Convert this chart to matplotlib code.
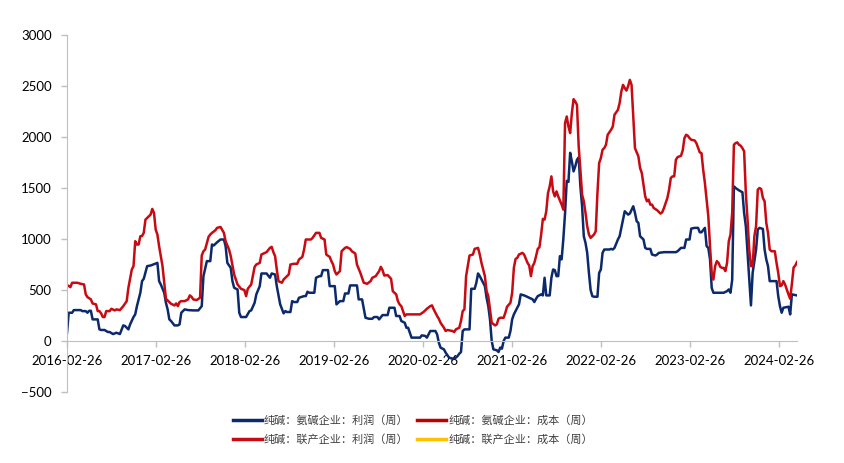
import matplotlib
matplotlib.use('Agg')
import matplotlib.pyplot as plt
import matplotlib.dates as mdates
from matplotlib.lines import Line2D
import numpy as np
import pandas as pd

plt.rcParams['font.family'] = ['Lato', 'Noto Sans CJK SC', 'DejaVu Sans']

start = pd.Timestamp('2016-02-26')

# 氨碱企业：利润（周）  (week index since 2016-02-26, value)
ammonia_weeks = [0, 1, 3, 4, 8, 9, 11, 12, 13, 14, 15, 18, 19, 20, 22, 24, 25, 27, 29, 31,
                 33, 34, 36, 37, 39, 40, 41, 43, 44, 45, 47, 49, 51, 53, 54, 55, 57, 58, 59, 60,
                 61, 63, 65, 66, 67, 69, 71, 74, 77, 79, 80, 82, 84, 85, 86, 88, 90, 92, 93, 94,
                 96, 97, 98, 100, 101, 102, 105, 107, 108, 110, 111, 113, 114, 117, 119, 120, 122, 123, 125, 127,
                 128, 129, 131, 132, 133, 135, 136, 139, 140, 141, 142, 145, 146, 148, 149, 150, 153, 154, 157, 158,
                 160, 162, 163, 165, 166, 170, 171, 173, 175, 177, 179, 180, 182, 183, 185, 188, 189, 192, 193, 195,
                 196, 198, 199, 200, 202, 207, 208, 210, 211, 213, 216, 217, 218, 219, 221, 222, 224, 226, 228, 229,
                 230, 231, 232, 233, 236, 237, 239, 240, 241, 242, 243, 245, 246, 247, 248, 249, 250, 252, 253, 254,
                 255, 256, 257, 259, 260, 261, 262, 264, 265, 266, 268, 269, 271, 273, 274, 275, 276, 278, 279, 280,
                 281, 283, 284, 285, 286, 287, 288, 289, 290, 291, 292, 293, 294, 295, 296, 297, 298, 299, 300, 301,
                 302, 303, 304, 305, 306, 307, 308, 309, 311, 312, 313, 314, 315, 318, 319, 320, 321, 323, 324, 325,
                 327, 328, 329, 330, 332, 333, 334, 335, 336, 338, 339, 340, 342, 343, 345, 346, 347, 350, 357, 358,
                 360, 362, 363, 365, 366, 368, 370, 371, 372, 374, 375, 376, 377, 378, 379, 385, 387, 388, 389, 390,
                 391, 392, 394, 396, 397, 398, 399, 400, 401, 402, 404, 405, 406, 408, 409, 410, 411, 412, 416, 417,
                 418, 419, 420, 423, 424, 425, 428]
ammonia_profit = [80, 277, 277, 303, 303, 293, 293, 277, 296, 296, 212, 212, 114, 108, 108, 88, 88, 68, 81, 68,
                  153, 147, 114, 163, 235, 261, 342, 473, 587, 610, 734, 740, 753, 766, 587, 554, 473, 375, 310, 212,
                  196, 153, 153, 163, 277, 310, 303, 300, 300, 342, 636, 783, 783, 946, 936, 968, 995, 995, 929, 766,
                  717, 587, 522, 505, 277, 235, 235, 293, 300, 375, 457, 538, 662, 662, 620, 662, 652, 538, 359, 271,
                  293, 284, 284, 391, 382, 382, 424, 440, 440, 483, 473, 473, 620, 636, 636, 695, 695, 538, 538, 359,
                  391, 391, 466, 466, 545, 545, 408, 408, 228, 218, 218, 235, 235, 212, 254, 254, 326, 326, 245, 245,
                  196, 179, 130, 130, 33, 33, 55, 50, 33, 98, 98, 65, -16, -65, -82, -114, -163, -173, -163, -147,
                  -124, -108, 98, 114, 114, 512, 512, 571, 662, 636, 603, 538, 424, 342, 212, 0, -82, -91, -108, -65,
                  -75, 0, 33, 33, 98, 212, 261, 326, 359, 457, 447, 440, 424, 408, 382, 414, 440, 457, 447, 620,
                  447, 447, 620, 701, 695, 636, 636, 832, 800, 1000, 1250, 1570, 1560, 1845, 1760, 1663, 1712, 1777, 1800, 1516,
                  1321, 1027, 962, 864, 668, 500, 440, 434, 434, 668, 701, 864, 897, 897, 903, 897, 913, 995, 1027, 1109,
                  1272, 1256, 1239, 1250, 1321, 1256, 1174, 1158, 1027, 995, 913, 903, 903, 848, 838, 848, 864, 871, 871, 880,
                  913, 913, 995, 995, 1102, 1109, 1109, 1066, 1066, 1109, 930, 913, 800, 520, 473, 473, 489, 505, 473, 600,
                  1516, 1500, 1477, 1458, 1256, 1125, 864, 603, 349, 668, 897, 1092, 1109, 1099, 897, 799, 734, 587, 587, 440,
                  342, 277, 326, 336, 261, 457, 447]

# 联产企业：利润（周）
joint_weeks = [0, 1, 2, 3, 6, 8, 10, 11, 12, 14, 15, 17, 18, 19, 20, 21, 22, 23, 25, 26,
               28, 29, 31, 33, 35, 36, 38, 39, 40, 41, 42, 43, 44, 45, 46, 48, 49, 50, 51, 52,
               53, 54, 56, 57, 58, 60, 61, 63, 64, 65, 66, 67, 69, 71, 72, 73, 74, 76, 78, 79,
               80, 81, 83, 84, 85, 87, 88, 90, 92, 93, 95, 96, 98, 100, 102, 104, 105, 106, 108, 110,
               111, 113, 114, 116, 117, 119, 120, 121, 122, 123, 124, 126, 127, 129, 130, 131, 133, 135, 136, 138,
               139, 140, 143, 144, 146, 148, 149, 151, 152, 154, 155, 156, 157, 158, 160, 161, 163, 164, 166, 167,
               169, 170, 172, 174, 176, 178, 179, 181, 183, 184, 185, 186, 188, 190, 191, 193, 194, 195, 196, 198,
               199, 207, 209, 211, 213, 214, 215, 217, 218, 219, 221, 222, 223, 226, 227, 228, 230, 231, 232, 233,
               234, 236, 238, 239, 241, 242, 243, 245, 246, 247, 248, 249, 251, 252, 253, 254, 256, 257, 258, 260,
               261, 262, 263, 264, 265, 267, 268, 270, 271, 272, 273, 274, 275, 276, 277, 278, 279, 280, 281, 282,
               283, 284, 285, 286, 287, 288, 290, 291, 292, 293, 294, 295, 296, 297, 298, 299, 300, 301, 302, 303,
               304, 305, 306, 307, 309, 310, 311, 312, 313, 314, 315, 316, 317, 319, 320, 321, 323, 324, 325, 326,
               327, 328, 329, 330, 331, 332, 333, 335, 336, 337, 338, 339, 340, 341, 342, 343, 344, 346, 348, 349,
               350, 352, 353, 354, 355, 356, 357, 358, 360, 361, 362, 363, 364, 365, 366, 368, 369, 371, 372, 373,
               374, 375, 376, 377, 378, 379, 380, 381, 382, 383, 384, 385, 386, 387, 388, 389, 390, 391, 392, 393,
               394, 395, 396, 397, 398, 399, 400, 401, 402, 403, 404, 405, 406, 407, 408, 409, 410, 411, 412, 413,
               415, 416, 417, 418, 419, 420, 421, 422, 423, 424, 425, 426, 427, 428]
joint_profit = [548, 540, 528, 571, 571, 561, 554, 457, 430, 408, 368, 359, 293, 293, 271, 235, 235, 293, 293, 316,
                300, 310, 303, 342, 391, 522, 701, 734, 978, 946, 946, 1027, 1030, 1060, 1190, 1223, 1239, 1295, 1256, 1092,
                1044, 929, 734, 571, 414, 382, 365, 349, 368, 342, 382, 391, 391, 408, 447, 434, 408, 401, 424, 838,
                880, 897, 1021, 1044, 1060, 1086, 1109, 1118, 1060, 978, 897, 832, 652, 554, 512, 499, 440, 512, 554, 727,
                750, 766, 848, 864, 871, 913, 923, 871, 832, 701, 587, 571, 603, 636, 652, 750, 757, 757, 799, 825,
                897, 995, 995, 1011, 1060, 1060, 1011, 995, 848, 825, 783, 750, 685, 652, 685, 880, 913, 920, 903, 880,
                858, 750, 668, 571, 561, 587, 620, 636, 685, 727, 695, 642, 646, 610, 489, 457, 391, 359, 342, 245,
                261, 261, 284, 316, 342, 349, 310, 245, 218, 179, 130, 98, 108, 98, 88, 114, 130, 196, 293, 310,
                636, 838, 848, 903, 913, 848, 766, 636, 489, 440, 310, 179, 153, 163, 218, 228, 228, 277, 336, 375,
                473, 717, 805, 815, 848, 864, 848, 766, 740, 636, 734, 766, 832, 903, 920, 1044, 1197, 1190, 1272, 1450,
                1516, 1614, 1467, 1418, 1467, 1418, 1337, 1288, 2136, 2201, 2103, 2038, 2234, 2371, 2348, 2315, 1908, 1679, 1435, 1370,
                1256, 1125, 1044, 1011, 1044, 1076, 1451, 1745, 1794, 1875, 1891, 1924, 2022, 2071, 2103, 2218, 2266, 2332, 2446, 2511,
                2479, 2455, 2500, 2560, 2511, 2201, 1891, 1810, 1696, 1647, 1533, 1418, 1370, 1386, 1337, 1337, 1304, 1282, 1249, 1262,
                1304, 1402, 1484, 1598, 1614, 1614, 1777, 1803, 1816, 1869, 1989, 2022, 2012, 1989, 1973, 1966, 1940, 1849, 1842, 1679,
                1549, 1386, 1223, 929, 668, 603, 734, 783, 766, 727, 717, 717, 685, 766, 978, 1044, 1256, 1924, 1940, 1947,
                1924, 1914, 1891, 1859, 1451, 1190, 897, 734, 734, 1027, 1125, 1484, 1500, 1490, 1402, 1370, 1158, 1060, 897, 880,
                880, 766, 668, 538, 545, 587, 554, 505, 457, 414, 560, 720, 740, 775]

series_labels = ['纯碱：氨碱企业：利润（周）', '纯碱：氨碱企业：成本（周）',
                 '纯碱：联产企业：利润（周）', '纯碱：联产企业：成本（周）']
series_colors = ['#0c2a6b', '#c00000', '#c80a12', '#ffc000']

tick_years = list(range(2016, 2025))


def to_dates(weeks):
    return start + pd.to_timedelta(np.array(weeks) * 7, unit='D')


fig = plt.figure(figsize=(8.45, 4.63), dpi=100)
ax = fig.add_axes([67 / 845, 1 - 392 / 463, (797 - 67) / 845, (392 - 35) / 463])

ax.plot(to_dates(ammonia_weeks), ammonia_profit, color=series_colors[0], lw=1.8)
ax.plot(to_dates(joint_weeks), joint_profit, color=series_colors[2], lw=1.8)

ax.set_ylim(-500, 3000)
ax.set_yticks(np.arange(-500, 3001, 500))
ax.set_xlim(start, to_dates([428])[0])
ax.set_xticks([pd.Timestamp(f'{y}-02-26') for y in tick_years])
ax.xaxis.set_major_formatter(mdates.DateFormatter('%Y-%m-%d'))

for s in ['top', 'right']:
    ax.spines[s].set_visible(False)
ax.spines['bottom'].set_position(('data', 0))
ax.spines['bottom'].set_color('#bfbfbf')
ax.spines['left'].set_color('#bfbfbf')
ax.tick_params(axis='both', colors='#bfbfbf', labelcolor='black', labelsize=9.5,
               length=4, width=1, direction='out')
ax.tick_params(axis='x', pad=6)
ax.tick_params(axis='y', pad=7)

handles = [Line2D([], [], color=c, lw=2.5) for c in series_colors]
order = [0, 2, 1, 3]
leg = fig.legend([handles[i] for i in order], [series_labels[i] for i in order],
                 loc='center', bbox_to_anchor=(413 / 845, 1 - 430 / 463), ncol=2,
                 frameon=False, fontsize=8, handlelength=2.6, handletextpad=0.2,
                 columnspacing=0.8, labelspacing=0.75)
for t in leg.get_texts():
    t.set_color('#404040')

fig.savefig('out.png', dpi=100)
